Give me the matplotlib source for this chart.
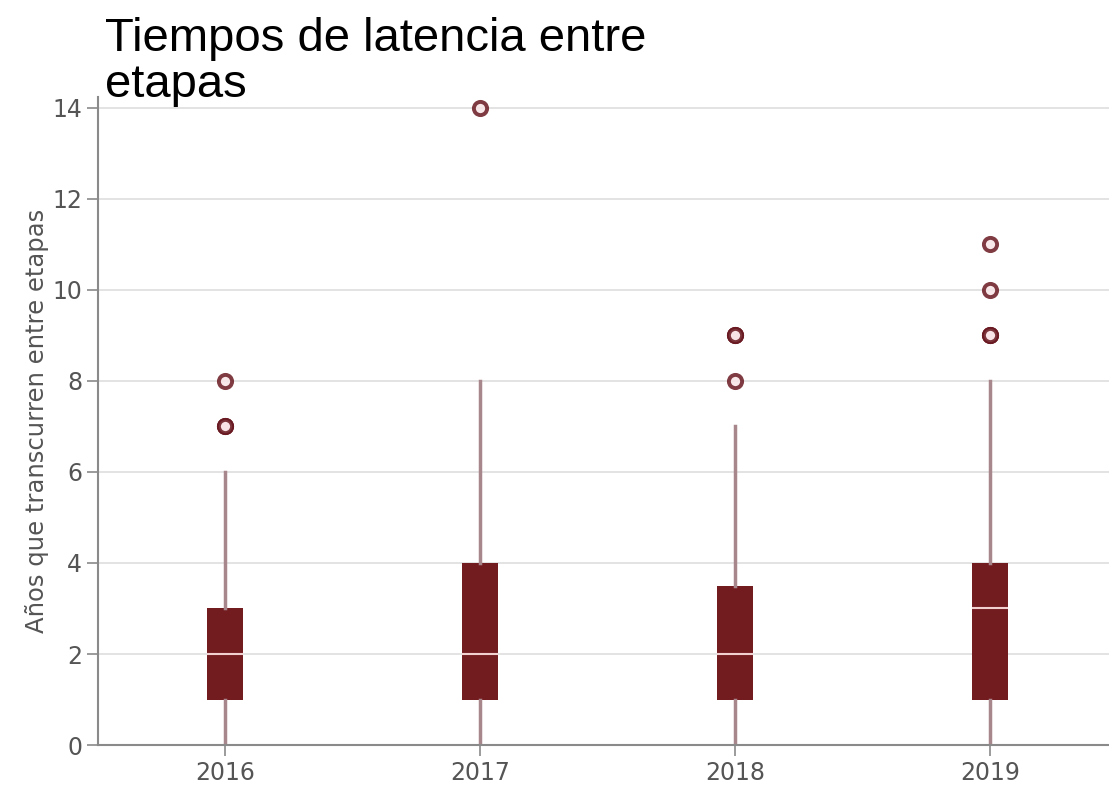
import os
import matplotlib
import matplotlib.pyplot as plt
from matplotlib import font_manager

dejavu_path = os.path.join(matplotlib.get_data_path(), "fonts", "ttf", "DejaVuSans.ttf")
font_manager.fontManager.addfont(dejavu_path)
plt.rcParams["font.family"] = ["DejaVu Sans"]
plt.rcParams["font.sans-serif"] = ["DejaVu Sans"]

# datos (años entre etapas)
years = ["2016", "2017", "2018", "2019"]
whislo = [0, 0, 0, 0]
q1 = [1, 1, 1, 1]
med = [2, 2, 2, 3]
q3 = [3, 4, 3.5, 4]
whishi = [6, 8, 7, 8]
outliers = [[7, 7, 7, 8], [14], [8, 9, 9, 9], [9, 9, 9, 10, 11]]

BOX_COLOR = "#731c20"
WHISK_COLOR = "#a8878c"
GRID_COLOR = "#dedede"
AXIS_COLOR = "#8a8a8a"
TEXT_COLOR = "#555555"

stats = []
for i in range(len(years)):
    stats.append({
        "label": years[i], "whislo": whislo[i], "q1": q1[i], "med": med[i],
        "q3": q3[i], "whishi": whishi[i], "fliers": outliers[i],
    })

fig = plt.figure(figsize=(11.09, 7.93), dpi=100)
ax = fig.add_axes([0.0884, 0.0605, 0.9116, 0.8172])

ax.bxp(stats, positions=range(len(years)), widths=0.14, patch_artist=True,
       showcaps=False,
       boxprops=dict(facecolor=BOX_COLOR, edgecolor=BOX_COLOR, linewidth=0),
       whiskerprops=dict(color=WHISK_COLOR, linewidth=2.5),
       medianprops=dict(color="#f3d0d0", linewidth=1.5),
       flierprops=dict(marker="o", markersize=9.5, markerfacecolor="#f8e4e6",
                       markeredgecolor="#6a1a22", markeredgewidth=2.8, alpha=0.85))

ax.set_xlim(-0.498, 3.467)
ax.set_ylim(0, 14.24)
ax.set_yticks(range(0, 15, 2))
ax.yaxis.grid(True, color=GRID_COLOR, linewidth=1.2)
ax.set_axisbelow(True)

for s in ["top", "right"]:
    ax.spines[s].set_visible(False)
for s in ["left", "bottom"]:
    ax.spines[s].set_color(AXIS_COLOR)
    ax.spines[s].set_linewidth(1.5)

ax.tick_params(axis="both", colors=AXIS_COLOR, length=8, width=1.2,
               labelsize=17, labelcolor=TEXT_COLOR)
ax.set_ylabel("Años que transcurren entre etapas", fontsize=17.5,
              color=TEXT_COLOR, labelpad=2)

fig.text(0.095, 0.979, "Tiempos de latencia entre\netapas", ha="left", va="top",
         fontsize=34, family="Liberation Sans", color="black", linespacing=1.08)

fig.savefig("out.png")
